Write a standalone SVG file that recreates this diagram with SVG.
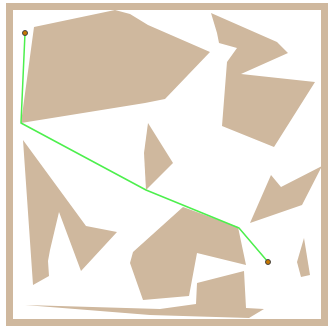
<svg xmlns="http://www.w3.org/2000/svg" width="328" height="326" viewBox="0 0 328 326">
<style>
.obs{fill:#cfb89e;stroke:none}
.frame{fill:none;stroke:#cfb89e;stroke-width:7}
.path{fill:none;stroke:#4def4d;stroke-width:1.5;stroke-linejoin:round}
.pt{fill:#c87800;stroke:#444;stroke-width:1}
</style>
<rect width="328" height="326" fill="#ffffff"/>
<rect class="frame" x="9.5" y="6.5" width="315" height="316"/>
<g id="obstacles">
<polygon id="o1" class="obs" points="34,27 115,10 130,14 148,25 210,52 165,99 145,103 21,123"/>
<polygon id="o2" class="obs" points="211,13 277,42 288,53 241,74 315,82 274,147 222,126 227,62 237,48 219,43 217,33"/>
<polygon id="o3" class="obs" points="148,123 173,163 146,190 144,153"/>
<polygon id="o4" class="obs" points="23,140 86,226 117,232 81,271 59,212 50,250 48,261 49,276 33,285"/>
<polygon id="o5" class="obs" points="183,207 238,227 246,265 197,253 189,296 143,300 130,263 133,252"/>
<polygon id="o6" class="obs" points="25,305 160,309 196,304 197,283 244,271 246,308 264,309 249,318 150,315"/>
<polygon id="o7" class="obs" points="271,175 281,187 322,166 302,205 250,223"/>
<polygon id="o8" class="obs" points="304,238 310,275 301,277 297,262"/>
</g>
<g id="connectors">
<polyline class="path" points="25,33 21,123 146,190 239,228 268,262"/>
</g>
<g id="start"><circle class="pt" cx="25" cy="33" r="2.5"/></g>
<g id="goal"><circle class="pt" cx="268" cy="262" r="2.5"/></g>
</svg>
